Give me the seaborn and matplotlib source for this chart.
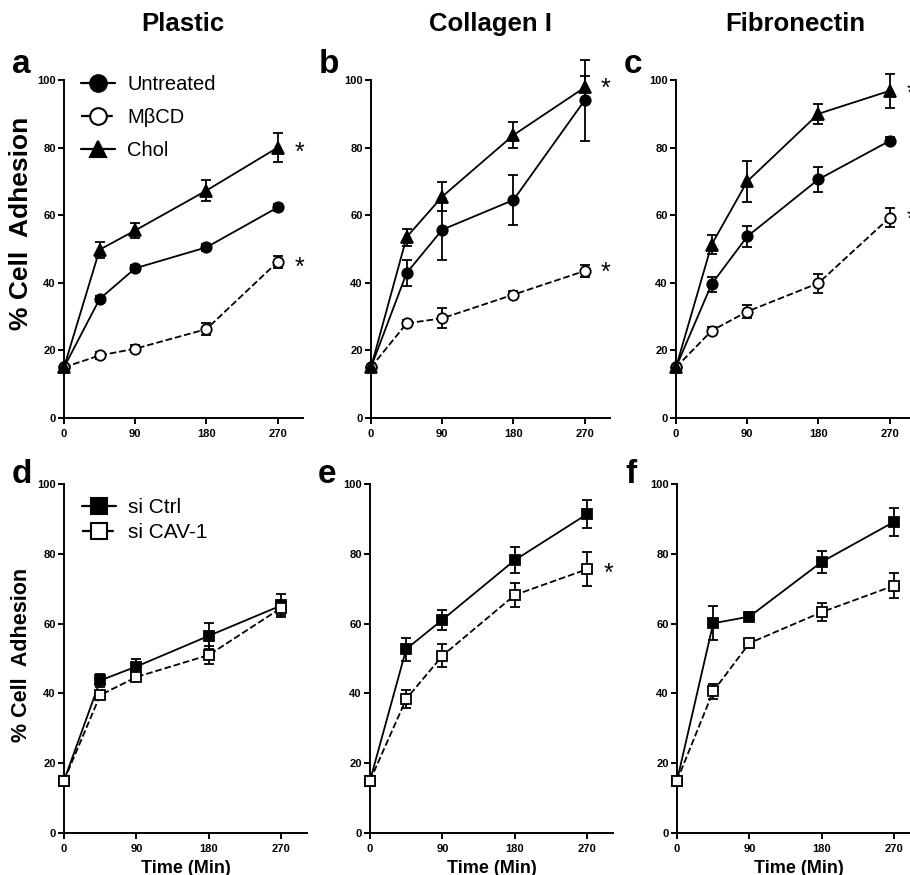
import numpy as np
import pandas as pd
import seaborn as sns
import matplotlib.pyplot as plt
from matplotlib.lines import Line2D

## Data, time in minutes, values in % cell adhesion
time = [0, 45, 90, 180, 270]

# top row: treatments
untreated_plastic = [15, 35.2, 44.3, 50.5, 62.3]
untreated_plastic_sem = [0, 1, 1, 1, 1]
mbcd_plastic = [15, 18.5, 20.5, 26.3, 46.2]
mbcd_plastic_sem = [0, 1, 1, 1.8, 1.7]
chol_plastic = [15, 49.8, 55.5, 67.3, 80]
chol_plastic_sem = [0, 2.4, 2.3, 3, 4.3]

untreated_col = [15, 42.9, 55.7, 64.5, 94]
untreated_col_sem = [0, 3.8, 9, 7.5, 12]
mbcd_col = [15, 28, 29.5, 36.5, 43.5]
mbcd_col_sem = [0, 1, 3, 1, 1.8]
chol_col = [15, 53.5, 65.5, 83.7, 97.8]
chol_col_sem = [0, 2.5, 4.3, 3.8, 3.3]

untreated_fn = [15, 39.6, 53.7, 70.6, 82]
untreated_fn_sem = [0, 2.2, 3, 3.8, 1]
mbcd_fn = [15, 25.8, 31.5, 39.9, 59.3]
mbcd_fn_sem = [0, 1, 2, 2.8, 2.8]
chol_fn = [15, 51.3, 70, 90, 96.8]
chol_fn_sem = [0, 2.7, 6, 3, 5]

# bottom row: siRNA
ctrl_plastic = [15, 43.7, 47.7, 56.5, 65.2]
ctrl_plastic_sem = [0, 2, 2.2, 3.8, 3.3]
cav_plastic = [15, 39.5, 44.7, 51, 64.5]
cav_plastic_sem = [0, 1, 1, 2.5, 2]

ctrl_col = [15, 52.7, 61.1, 78.2, 91.4]
ctrl_col_sem = [0, 3.3, 2.8, 3.8, 3.9]
cav_col = [15, 38.4, 50.8, 68.2, 75.6]
cav_col_sem = [0, 2.5, 3.3, 3.5, 4.8]

ctrl_fn = [15, 60.1, 62, 77.7, 89.2]
ctrl_fn_sem = [0, 4.9, 1.3, 3.2, 4]
cav_fn = [15, 40.6, 54.4, 63.3, 70.9]
cav_fn_sem = [0, 2.2, 1, 2.6, 3.6]

substrates = ["Plastic", "Collagen I", "Fibronectin"]
letters_top = ["a", "b", "c"]
letters_bottom = ["d", "e", "f"]

# series styles: marker, linestyle, facecolor
styles = {
    "Untreated": ("o", "-", "black"),
    "M\u03b2CD": ("o", "--", "white"),
    "Chol": ("^", "-", "black"),
    "si Ctrl": ("s", "-", "black"),
    "si CAV-1": ("s", "--", "white"),
}

top_data = [
    {"Untreated": (untreated_plastic, untreated_plastic_sem),
     "M\u03b2CD": (mbcd_plastic, mbcd_plastic_sem),
     "Chol": (chol_plastic, chol_plastic_sem)},
    {"Untreated": (untreated_col, untreated_col_sem),
     "M\u03b2CD": (mbcd_col, mbcd_col_sem),
     "Chol": (chol_col, chol_col_sem)},
    {"Untreated": (untreated_fn, untreated_fn_sem),
     "M\u03b2CD": (mbcd_fn, mbcd_fn_sem),
     "Chol": (chol_fn, chol_fn_sem)},
]
bottom_data = [
    {"si Ctrl": (ctrl_plastic, ctrl_plastic_sem), "si CAV-1": (cav_plastic, cav_plastic_sem)},
    {"si Ctrl": (ctrl_col, ctrl_col_sem), "si CAV-1": (cav_col, cav_col_sem)},
    {"si Ctrl": (ctrl_fn, ctrl_fn_sem), "si CAV-1": (cav_fn, cav_fn_sem)},
]

# significance stars: panel -> list of (x, y)
stars_top = [[(297, 80), (297, 46)], [(296, 99), (296, 44.5)], [(297, 97.5), (297, 60)]]
stars_bottom = [[], [(297, 75.8)], []]

sns.set_style("ticks")
plt.rcParams["font.family"] = ["Liberation Sans", "DejaVu Sans"]
plt.rcParams["axes.linewidth"] = 1.4
plt.rcParams["text.color"] = "black"
plt.rcParams["axes.labelcolor"] = "black"
plt.rcParams["xtick.color"] = "black"
plt.rcParams["ytick.color"] = "black"
plt.rcParams["axes.edgecolor"] = "black"

W, H = 910, 875
fig = plt.figure(figsize=(W / 100, H / 100), dpi=100)


def add_ax(left, top, bottom, width):
    return fig.add_axes([left / W, 1 - bottom / H, width / W, (bottom - top) / H])


def draw_panel(ax, data):
    for name, (vals, sem) in data.items():
        mk, ls, fc = styles[name]
        df = pd.DataFrame({"time": time, "value": vals})
        ax.errorbar(time, vals, yerr=sem, fmt="none", ecolor="black", elinewidth=1.3,
                    capsize=3.8, capthick=1.3, clip_on=False, zorder=2)
        sns.lineplot(data=df, x="time", y="value", ax=ax, color="black", marker=mk,
                     linestyle=ls, linewidth=1.3, markersize=7.5 if mk != "^" else 8,
                     markerfacecolor=fc, markeredgecolor="black", markeredgewidth=1.3,
                     errorbar=None, clip_on=False, zorder=3)
    ax.set_xlim(0, 302)
    ax.set_ylim(0, 100)
    ax.set_xticks([0, 90, 180, 270])
    ax.set_yticks([0, 20, 40, 60, 80, 100])
    ax.set_xlabel("")
    ax.set_ylabel("")
    ax.tick_params(length=4, width=1.4, labelsize=8, color="black", labelcolor="black")
    ax.tick_params(axis="x", pad=4)
    ax.tick_params(axis="y", pad=2)
    for lab in ax.get_xticklabels() + ax.get_yticklabels():
        lab.set_fontweight("bold")
    sns.despine(ax=ax)


def legend_handles(names, ms):
    hs = []
    for n in names:
        mk, ls, fc = styles[n]
        hs.append(Line2D([], [], color="black", marker=mk, linestyle=ls, linewidth=1.6,
                         markersize=ms, markerfacecolor=fc, markeredgecolor="black",
                         markeredgewidth=1.5))
    return hs


top_lefts = [64, 371, 676]
bottom_lefts = [64, 370, 677]

for i in range(3):
    ax = add_ax(top_lefts[i], 80, 418, 239)
    draw_panel(ax, top_data[i])
    for (sx, sy) in stars_top[i]:
        ax.text(sx, sy - 1.5, "*", fontsize=18, ha="center", va="center", clip_on=False)
    fig.text((top_lefts[i] + 119) / W, 1 - 24 / H, substrates[i], fontsize=18.5,
             fontweight="bold", ha="center", va="center")
    fig.text((top_lefts[i] - 52) / W, 1 - 73 / H, letters_top[i], fontsize=24,
             fontweight="bold", ha="left", va="baseline")
    if i == 0:
        ax.set_ylabel("% Cell  Adhesion", fontsize=19, fontweight="bold")
        ax.yaxis.set_label_coords(-0.13, 0.577)
        names = ["Untreated", "M\u03b2CD", "Chol"]
        ax.legend(legend_handles(names, 12), names, loc="upper left",
                  bbox_to_anchor=(0.07, 1.015), frameon=False, fontsize=14.5,
                  handlelength=1.7, handletextpad=0.6, labelspacing=0.7,
                  borderpad=0, borderaxespad=0)

for i in range(3):
    ax = add_ax(bottom_lefts[i], 484, 833, 243)
    draw_panel(ax, bottom_data[i])
    for (sx, sy) in stars_bottom[i]:
        ax.text(sx, sy - 1.5, "*", fontsize=18, ha="center", va="center", clip_on=False)
    ax.set_xlabel("Time (Min)", fontsize=13, fontweight="bold", labelpad=4)
    fig.text((bottom_lefts[i] - 52) / W, 1 - 483 / H, letters_bottom[i], fontsize=24,
             fontweight="bold", ha="left", va="baseline")
    if i == 0:
        ax.set_ylabel("% Cell  Adhesion", fontsize=15.5, fontweight="bold")
        ax.yaxis.set_label_coords(-0.13, 0.51)
        names = ["si Ctrl", "si CAV-1"]
        ax.legend(legend_handles(names, 11), names, loc="upper left",
                  bbox_to_anchor=(0.075, 0.96), frameon=False, fontsize=15,
                  handlelength=1.6, handletextpad=0.6, labelspacing=0.3,
                  borderpad=0, borderaxespad=0)

fig.savefig("out.png", dpi=100)
